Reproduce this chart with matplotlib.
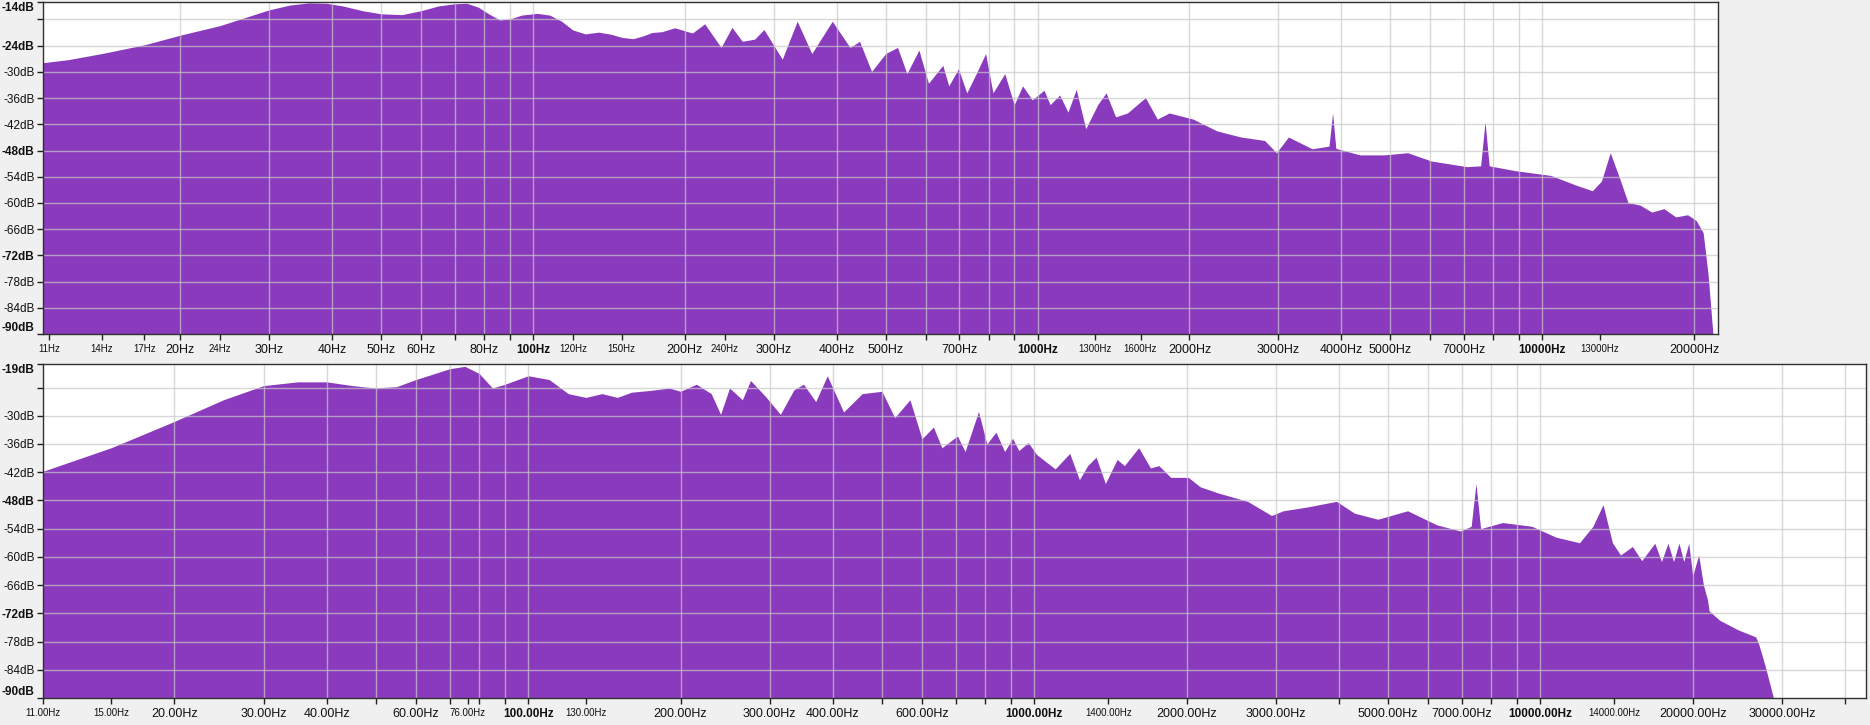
import matplotlib
matplotlib.use('Agg')
import matplotlib.pyplot as plt
from matplotlib.ticker import NullFormatter

plt.rcParams['font.family'] = ['Liberation Sans', 'DejaVu Sans']

PURPLE = '#8a3abd'
GRID = '#c8c8c8'

# top spectrum (44.1 kHz file)
top_f = [10.7, 12, 14, 17, 20, 24, 27, 30, 33, 36,
         39, 42, 46, 50, 55, 60, 65, 70, 74, 78,
         82, 86, 90, 95, 102, 108, 114, 120, 127, 135,
         143, 150, 158, 165, 172, 180, 191, 207, 219, 236,
         248, 260, 275, 287, 312, 334, 357, 392, 425, 444,
         469, 500, 528, 551, 582, 608, 649, 667, 697, 724,
         756, 789, 816, 861, 899, 934, 976, 1030, 1059, 1106,
         1149, 1193, 1246, 1316, 1367, 1428, 1507, 1636, 1727, 1824,
         2033, 2266, 2528, 2818, 2974, 3141, 3500, 3780, 3843, 3900,
         4354, 4855, 5412, 6030, 7100, 7550, 7704, 7850, 8830, 10400,
         11590, 12570, 13100, 13640, 14250, 14790, 15630, 16490, 17420, 18390,
         19410, 20180, 20840, 21310, 21790]
top_db = [-27.9, -27.2, -25.8, -23.8, -21.6, -19.4, -17.5, -15.8, -14.7, -14.2,
          -14.3, -14.9, -16.0, -16.7, -16.9, -16.0, -14.9, -14.4, -14.3, -15.2,
          -16.8, -18.1, -17.9, -17.0, -16.6, -17.0, -18.4, -20.4, -21.3, -20.9,
          -21.4, -22.1, -22.4, -21.8, -21.0, -20.8, -19.9, -21.1, -19.0, -24.4,
          -19.8, -23.0, -22.5, -20.3, -27.1, -18.4, -25.8, -18.4, -24.4, -23.0,
          -29.9, -25.8, -24.4, -30.4, -25.0, -32.6, -28.5, -33.2, -29.3, -34.8,
          -30.4, -25.8, -34.8, -30.4, -37.5, -33.2, -36.4, -34.2, -37.5, -35.3,
          -39.2, -34.0, -43.0, -37.5, -34.8, -40.3, -39.4, -35.9, -40.8, -39.4,
          -40.8, -43.5, -44.9, -45.7, -48.5, -44.9, -47.6, -47.0, -39.4, -47.5,
          -49.0, -49.0, -48.5, -50.4, -51.7, -51.5, -41.4, -51.5, -52.6, -53.7,
          -55.8, -57.2, -55.0, -48.5, -54.5, -59.9, -60.5, -62.1, -61.3, -63.2,
          -62.7, -64.0, -66.8, -76.3, -90.0]

# bottom spectrum (96 kHz file)
bot_f = [11, 15, 20, 25, 30, 35, 40, 45, 50, 55,
         60, 70, 75, 80, 85, 90, 100, 110, 120, 130,
         140, 150, 160, 175, 190, 200, 215, 230, 240, 250,
         265, 275, 295, 315, 335, 350, 370, 390, 420, 457,
         500, 530, 568, 600, 632, 657, 705, 730, 776, 806,
         840, 874, 906, 932, 973, 1010, 1055, 1100, 1175, 1228,
         1275, 1325, 1382, 1458, 1507, 1608, 1697, 1763, 1860, 2015,
         2127, 2306, 2640, 2942, 3105, 3460, 3955, 4290, 4775, 5465,
         6245, 6950, 7300, 7460, 7620, 8420, 9620, 10730, 11950, 12700,
         13300, 13880, 14400, 15200, 15860, 16830, 17350, 17870, 18330, 18790,
         19200, 19640, 20000, 20550, 21000, 21400, 21550, 22630, 24570, 26630,
         27000, 27780, 28880]
bot_db = [-41.8, -36.8, -31.2, -26.6, -23.6, -22.8, -22.8, -23.6, -24.1, -23.8,
          -22.3, -20.0, -19.5, -21.0, -24.1, -23.3, -21.5, -22.3, -25.3, -26.1,
          -25.3, -26.1, -25.0, -24.6, -24.1, -24.8, -23.3, -25.3, -29.7, -24.1,
          -26.6, -22.5, -26.0, -29.7, -24.5, -23.3, -27.0, -21.5, -29.2, -25.3,
          -24.8, -30.4, -26.6, -34.9, -32.4, -36.8, -34.3, -37.6, -29.1, -36.0,
          -33.5, -37.6, -34.8, -37.4, -35.7, -38.2, -39.8, -41.3, -38.0, -43.6,
          -40.6, -38.8, -44.4, -39.3, -40.6, -36.8, -41.1, -40.6, -43.1, -43.1,
          -45.1, -46.4, -48.2, -51.2, -50.2, -49.4, -48.2, -50.7, -52.0, -50.2,
          -53.2, -54.5, -53.5, -44.4, -54.0, -52.7, -53.5, -55.8, -57.0, -53.5,
          -48.9, -57.0, -59.6, -57.8, -60.8, -57.1, -61.0, -57.1, -61.0, -57.1,
          -61.0, -57.1, -64.0, -59.6, -66.0, -69.2, -71.5, -73.5, -75.5, -77.0,
          -78.5, -83.0, -90.0]

top_xt = [11, 14, 17, 20, 24, 30, 40, 50, 60, 80, 100, 120, 150, 200, 240, 300,
          400, 500, 700, 1000, 1300, 1600, 2000, 3000, 4000, 5000, 7000, 10000,
          13000, 20000]
top_xsmall = [11, 14, 17, 24, 120, 150, 240, 1300, 1600, 13000]
bot_xt = [11, 15, 20, 30, 40, 60, 76, 100, 130, 200, 300, 400, 600, 1000, 1400,
          2000, 3000, 5000, 7000, 10000, 14000, 20000, 30000]
bot_xsmall = [11, 15, 76, 130, 1400, 14000]
x_bold = [100, 1000, 10000]

top_yt = [-14, -24, -30, -36, -42, -48, -54, -60, -66, -72, -78, -84, -90]
bot_yt = [-19, -30, -36, -42, -48, -54, -60, -66, -72, -78, -84, -90]
y_bold = [-24, -48, -72]

W, H = 1870, 725
fig = plt.figure(figsize=(W / 100, H / 100), dpi=100)
fig.patch.set_facecolor('#f0f0f0')


def box(l, t, r, b):
    return [l / W, 1 - b / H, (r - l) / W, (b - t) / H]


def panel(ax, f, db, xlim, ylim, xt, xsmall, yt, fmt):
    ax.set_xscale('log')
    ax.set_facecolor('white')
    ax.fill_between(f, db, ylim[0] - 5, color=PURPLE, lw=0, zorder=1)
    ax.set_xlim(xlim)
    ax.set_ylim(ylim)

    # grid: 1..9 x 10^n from 20 Hz up, every 6 dB
    decades = [k * 10 ** n for n in range(1, 5) for k in range(1, 10)]
    for g in decades:
        if 20 <= g < xlim[1]:
            ax.axvline(g, color=GRID, lw=1, alpha=0.7, zorder=2)
    gy = list(range(-18, -89, -6)) if ylim[1] > -18 else list(range(-24, -89, -6))
    for g in gy:
        ax.axhline(g, color=GRID, lw=1, alpha=0.7, zorder=2)

    ax.set_xticks(xt, [fmt % v for v in xt])
    ax.set_xticks([g for g in decades if xlim[0] < g < xlim[1] and g not in xt], minor=True)
    ax.xaxis.set_minor_formatter(NullFormatter())
    for v, lab in zip(xt, ax.get_xticklabels()):
        if v in x_bold:
            lab.set_fontweight('bold')
            lab.set_fontsize(8.5)
        elif v in xsmall:
            lab.set_fontsize(7)
        else:
            lab.set_fontsize(9)

    ax.set_yticks(yt, ['%ddB' % v for v in yt])
    ax.set_yticks([gy[0]], minor=True)
    labs = ax.get_yticklabels()
    for v, lab in zip(yt, labs):
        lab.set_fontsize(8.5)
        if v in y_bold or v == yt[0] or v == yt[-1]:
            lab.set_fontweight('bold')
    labs[0].set_va('top')
    labs[-1].set_va('bottom')

    ax.tick_params(which='both', direction='out', length=4, width=1, color='#202020',
                   labelcolor='#101010')
    ax.tick_params(axis='x', pad=3)
    ax.tick_params(axis='y', pad=2)
    for s in ax.spines.values():
        s.set_color('#303030')
        s.set_linewidth(1)
        s.set_zorder(3)


ax1 = fig.add_axes(box(43, 2, 1718, 334))
panel(ax1, top_f, top_db, (10.7, 22300), (-90, -14), top_xt, top_xsmall, top_yt, '%dHz')

ax2 = fig.add_axes(box(43, 364, 1866, 698))
panel(ax2, bot_f, bot_db, (11.0, 44000), (-90, -19), bot_xt, bot_xsmall, bot_yt, '%.2fHz')

fig.savefig('out.png', dpi=100, facecolor=fig.get_facecolor())
